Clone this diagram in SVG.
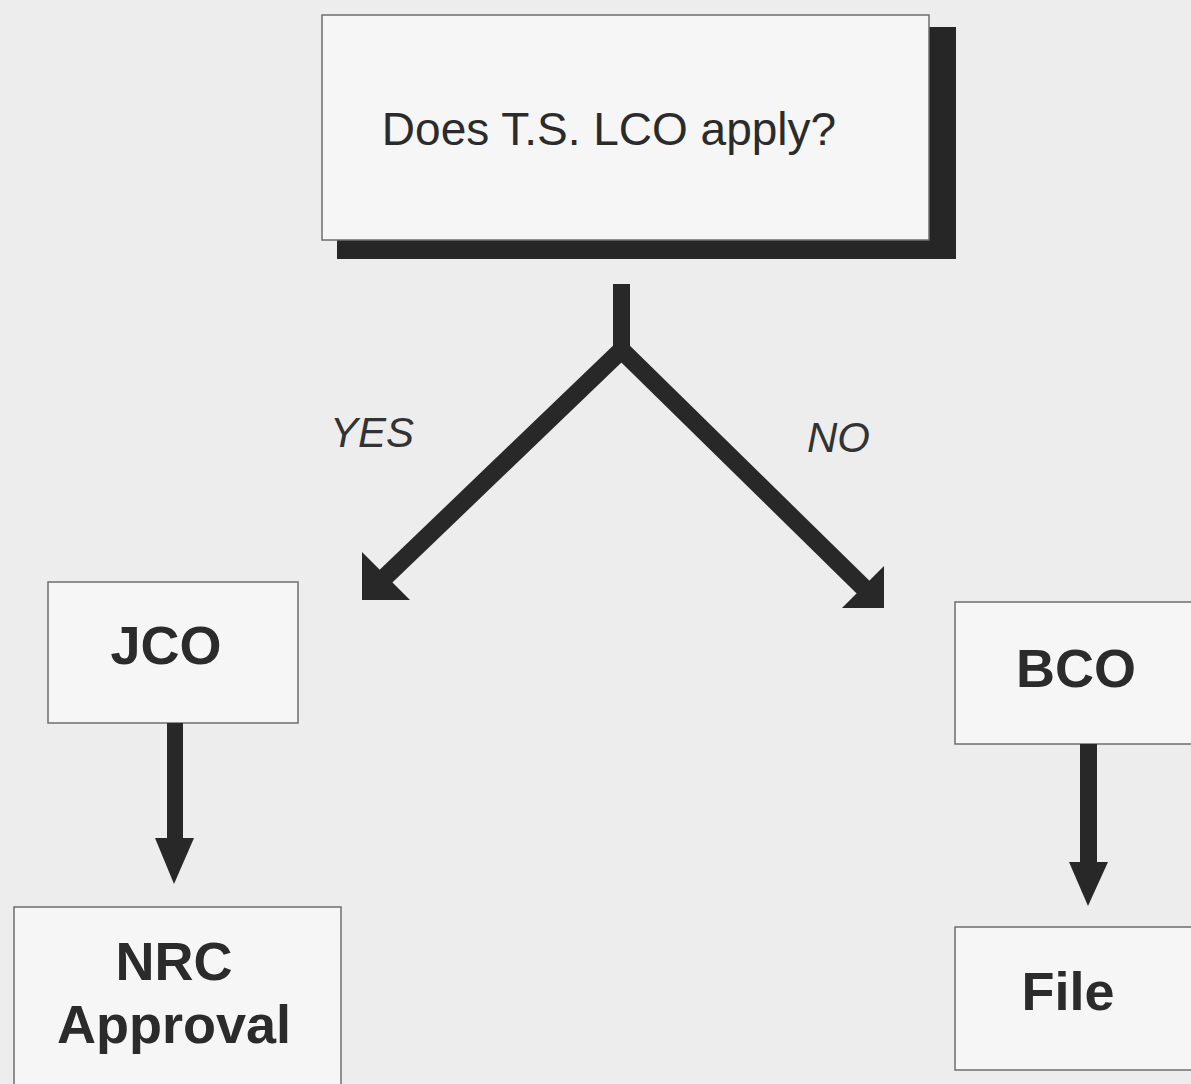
<svg xmlns="http://www.w3.org/2000/svg" width="1191" height="1084" viewBox="0 0 1191 1084">
<style>
.bg{fill:#ededed}
.box{fill:#f6f6f6;stroke:#6e6e6e;stroke-width:1.5}
.shadow{fill:#262626}
.t{font-family:"Liberation Sans",Arial,sans-serif;fill:#2b2b2b;text-anchor:middle}
.q{font-size:46px}
.n{font-size:54px;font-weight:bold}
.lbl{font-family:"Liberation Sans",Arial,sans-serif;font-style:italic;font-size:42px;fill:#333}
.line{fill:none;stroke:#282828;stroke-width:18}
.head{fill:#282828}
</style>
<rect class="bg" x="0" y="0" width="1191" height="1084"/>
<g id="node-question">
<rect class="shadow" x="337" y="27" width="619" height="232"/>
<rect class="box" x="322" y="15" width="607" height="225"/>
<text class="t q" x="609" y="145">Does T.S. LCO apply?</text>
</g>
<g id="node-jco">
<rect class="box" x="48" y="582" width="250" height="141"/>
<text class="t n" x="166" y="664">JCO</text>
</g>
<g id="node-nrc">
<rect class="box" x="14" y="907" width="327" height="190"/>
<text class="t n" x="174" y="980">NRC</text>
<text class="t n" x="174" y="1043">Approval</text>
</g>
<g id="node-bco">
<rect class="box" x="955" y="602" width="250" height="142"/>
<text class="t n" x="1076" y="687">BCO</text>
</g>
<g id="node-file">
<rect class="box" x="955" y="927" width="250" height="143"/>
<text class="t n" x="1068" y="1010">File</text>
</g>
<g id="connectors">
<path d="M621.5 284 V352" style="fill:none;stroke:#282828;stroke-width:17"/>
<polyline class="line" points="382,580 621.5,350 866,590" style="stroke-linejoin:miter"/>
<polygon class="head" points="362,552 362,600 410,600"/>
<polygon class="head" points="884,566 884,608 842,608"/>
<rect class="head" x="167" y="723" width="16" height="116"/>
<polygon class="head" points="155,838 194,838 174,884"/>
<rect class="head" x="1080" y="744" width="17" height="119"/>
<polygon class="head" points="1069,862 1108,862 1088,906"/>
<text class="lbl" x="330" y="447">YES</text>
<text class="lbl" x="807" y="452">NO</text>
</g>
</svg>
